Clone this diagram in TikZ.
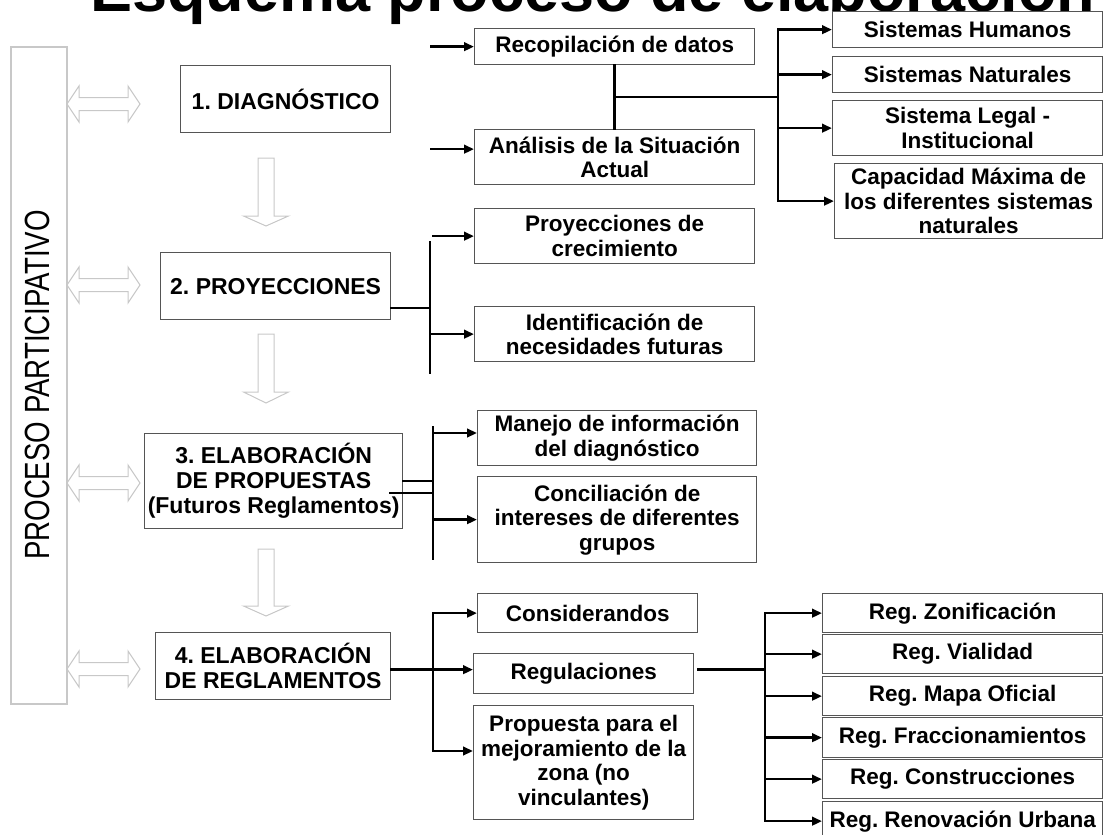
\documentclass[tikz,border=0pt]{standalone}
\usepackage{fontspec}
\usepackage{graphicx}
\setmainfont{Liberation Sans}
\usetikzlibrary{arrows.meta,calc}
\definecolor{boxgray}{RGB}{85,85,85}
\definecolor{lgray}{RGB}{200,200,200}
\newcommand\HollowH[1]{\draw[hollow,shift={(0,#1)}] (67,0) -- (79,-18) -- (79,-6.5) -- (128,-6.5) -- (128,-18) -- (140,0) -- (128,18) -- (128,6.5) -- (79,6.5) -- (79,18) -- cycle;}
\newcommand\HollowV[3]{\draw[hollow] (258,#1) -- (274,#1) -- (274,#2) -- (288.5,#2) -- (266,#3) -- (243.5,#2) -- (258,#2) -- cycle;}
\frenchspacing
\begin{document}
\begin{tikzpicture}[x=1pt,y=-1pt,
  box/.style={draw=boxgray, line width=1.3pt, fill=white, inner sep=0pt, align=center, anchor=north west,
    font=\fontsize{22.5}{24.5}\selectfont\bfseries},
  stepbox/.style={box, font=\fontsize{23}{25}\selectfont\bfseries},
  conn/.style={line width=2.6pt, black, line cap=rect},
  arr/.style={conn, -{Triangle[length=10pt,width=8.5pt]}},
  hollow/.style={draw=lgray, line width=1pt, fill=white},
]
\useasboundingbox (0,0) rectangle (1103,835);
\clip (0,0) rectangle (1103,835);

% title
\node[anchor=base west, inner sep=0pt, font=\fontsize{63}{63}\selectfont\bfseries] (title) at (90,12) {Esquema proceso de elaboración};

% participative bar
\node[draw=lgray, line width=1.5pt, anchor=north west, minimum width=56pt, minimum height=657pt, inner sep=0pt] (part) at (10,46) {};
\node[rotate=90, inner sep=0pt, font=\fontsize{35}{35}\selectfont] (ptxt) at (37.5,385) {\scalebox{0.79}[1]{PROCESO PARTICIPATIVO}};

% step boxes
\node[stepbox, minimum width=210pt, minimum height=67pt] (diag) at (180,65) {1. DIAGNÓSTICO};
\node[stepbox, minimum width=230pt, minimum height=67pt] (proy) at (160,252) {2. PROYECCIONES};
\node[stepbox, minimum width=258pt, minimum height=95pt] (prop) at (144,433) {3. ELABORACIÓN\\DE PROPUESTAS\\(Futuros Reglamentos)};
\node[stepbox, minimum width=235pt, minimum height=67pt] (regl) at (155,632) {4. ELABORACIÓN\\DE REGLAMENTOS};

% hollow arrows
\HollowH{104}
\HollowH{285}
\HollowH{483}
\HollowH{669}
\HollowV{158}{216}{226}
\HollowV{334}{392}{403}
\HollowV{549}{606}{616}

% middle column
\node[box, minimum width=280pt, minimum height=36pt] (recop) at (474,28) {Recopilación de datos};
\node[box, minimum width=280pt, minimum height=55pt] (anal) at (474,129) {Análisis de la Situación\\Actual};
\node[box, minimum width=280pt, minimum height=55pt] (pcrec) at (474,208) {Proyecciones de\\crecimiento};
\node[box, minimum width=280pt, minimum height=55pt] (ident) at (474,306) {Identificación de\\necesidades futuras};
\node[box, minimum width=279pt, minimum height=55pt] (manejo) at (477,410) {Manejo de información\\del diagnóstico};
\node[box, minimum width=279pt, minimum height=86pt] (concil) at (477,476) {Conciliación de\\intereses de diferentes\\grupos};
\node[box, minimum width=220pt, minimum height=39pt] (consid) at (477,593) {Considerandos};
\node[box, minimum width=220pt, minimum height=40pt] (regul) at (473,653) {Regulaciones};
\node[box, minimum width=220pt, minimum height=114pt] (propu) at (473,705) {Propuesta para el\\mejoramiento de la\\zona (no\\vinculantes)};

% right column top
\node[box, minimum width=270pt, minimum height=36pt] (shum) at (832,11) {Sistemas Humanos};
\node[box, minimum width=270pt, minimum height=36pt] (snat) at (832,56) {Sistemas Naturales};
\node[box, minimum width=270pt, minimum height=55pt] (slegal) at (832,100) {Sistema Legal -\\Institucional};
\node[box, minimum width=268pt, minimum height=75pt] (capac) at (834,163) {Capacidad Máxima de\\los diferentes sistemas\\naturales};

% right column bottom
\node[box, minimum width=280pt, minimum height=39pt] (rz) at (822,593) {Reg. Zonificación};
\node[box, minimum width=280pt, minimum height=39pt] (rv) at (822,634) {Reg. Vialidad};
\node[box, minimum width=280pt, minimum height=39pt] (rm) at (822,676) {Reg. Mapa Oficial};
\node[box, minimum width=280pt, minimum height=40pt] (rf) at (822,717) {Reg. Fraccionamientos};
\node[box, minimum width=280pt, minimum height=39pt] (rc) at (822,759) {Reg. Construcciones};
\node[box, minimum width=280pt, minimum height=39pt] (rr) at (822,801) {Reg. Renovación Urbana};

% ---- connectors: diagnostico group
\coordinate (ra) at (431,0);
\draw[arr] (recop.west -| ra) -- (recop.west);
\draw[arr] ([yshift=8pt]anal.west -| ra) -- ([yshift=8pt]anal.west);
\draw[conn] (recop.south) -- (anal.north);
\coordinate (j1) at ($(recop.south)!0.5!(anal.north)$);
\coordinate (bus1) at (778,0);
\draw[conn] (j1) -- (j1 -| bus1);
\draw[conn] (shum.west -| bus1) -- (capac.west -| bus1);
\foreach \n in {shum,snat,slegal,capac} \draw[arr] (\n.west -| bus1) -- (\n.west);

% ---- proyecciones group
\coordinate (h2) at ([yshift=-22pt]proy.east);
\coordinate (b2t) at (430,242);
\coordinate (b2b) at (430,373);
\coordinate (b2a) at (433,0);
\draw[conn] (h2) -- (h2 -| b2t);
\draw[conn] (b2t) -- (b2b);
\draw[arr] (pcrec.west -| b2a) -- (pcrec.west);
\draw[arr] (ident.west -| b2t) -- (ident.west);

% ---- propuestas group
\coordinate (b3t) at (433,427);
\coordinate (b3b) at (433,559);
\coordinate (p3) at (390,493);
\coordinate (m3) at (433,433);
\draw[conn] (prop.east) -- (prop.east -| b3t);
\draw[conn] (p3) -- (p3 -| b3t);
\draw[conn] (b3t) -- (b3b);
\draw[arr] (m3) -- (m3 -| manejo.west);
\draw[arr] (concil.west -| b3t) -- (concil.west);

% ---- reglamentos group
\coordinate (h4) at ([yshift=-3.5pt]regl.east);
\coordinate (bus4) at (433,0);
\coordinate (p4) at (433,751);
\draw[arr] (h4) -- (h4 -| regul.west);
\draw[conn] (consid.west -| bus4) -- (p4);
\draw[arr] (consid.west -| bus4) -- (consid.west);
\draw[arr] (p4) -- (p4 -| propu.west);

% ---- regulaciones fan-out
\coordinate (bus5) at (765,0);
\draw[conn] (h4 -| regul.east) ++(4,0) -- (h4 -| bus5);
\draw[conn] (rz.west -| bus5) -- (rr.west -| bus5);
\foreach \n in {rz,rv,rm,rf,rc,rr} \draw[arr] (\n.west -| bus5) -- (\n.west);
\end{tikzpicture}
\end{document}
